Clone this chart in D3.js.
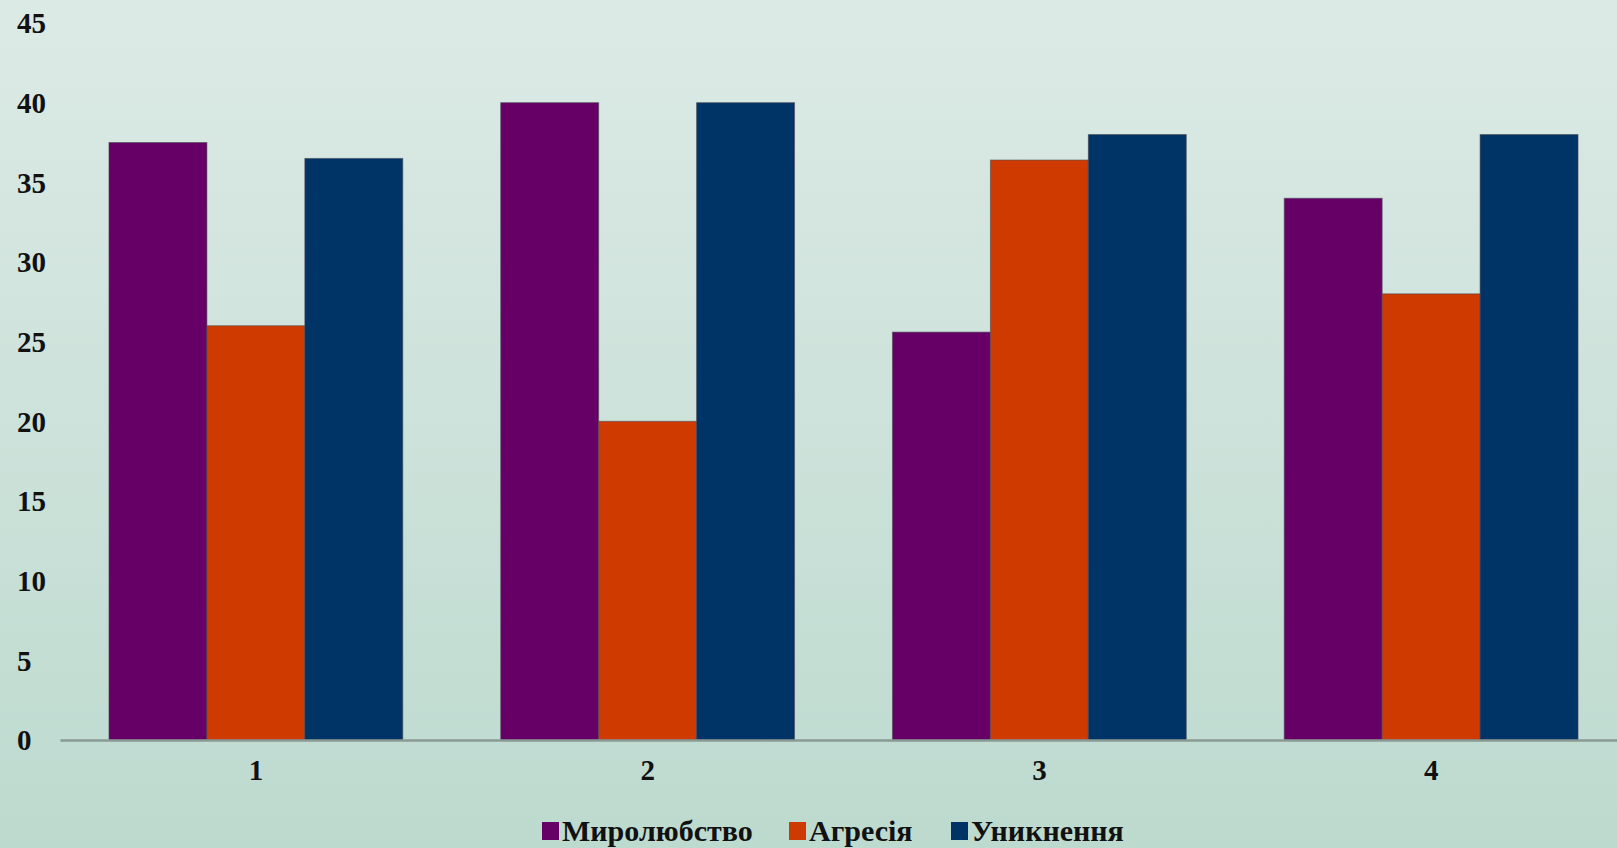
<!DOCTYPE html>
<html>
<head>
<meta charset="utf-8">
<script src="https://cdn.jsdelivr.net/npm/d3@7"></script>
<style>
  html, body { margin: 0; padding: 0; overflow: hidden; }
  svg { display: block; }
</style>
</head>
<body>
<svg id="chart" width="1617" height="848"></svg>
<script>
const categories = ["1", "2", "3", "4"];
const seriesNames = ["Миролюбство", "Агресія", "Уникнення"];
const peaceValues = [37.5, 40, 25.6, 34];
const aggressionValues = [26, 20, 36.4, 28];
const avoidanceValues = [36.5, 40, 38, 38];
const seriesColors = ["#660066", "#cf3a00", "#003366"];
const yTicks = [0, 5, 10, 15, 20, 25, 30, 35, 40, 45];

const seriesValues = [peaceValues, aggressionValues, avoidanceValues];
const data = categories.map((c, i) => ({ cat: c, vals: seriesValues.map((s, k) => ({ key: seriesNames[k], value: s[i], color: seriesColors[k] })) }));

const W = 1617, H = 848;
const FONT = "Liberation Serif";
const svg = d3.select("#chart");

const defs = svg.append("defs");
const grad = defs.append("linearGradient").attr("id", "bg").attr("x1", 0).attr("y1", 0).attr("x2", 0).attr("y2", 1);
grad.append("stop").attr("offset", "0%").attr("stop-color", "#dceae5");
grad.append("stop").attr("offset", "100%").attr("stop-color", "#bddacf");
svg.append("rect").attr("width", W).attr("height", H).attr("fill", "url(#bg)");

const x0 = d3.scaleBand().domain(categories).range([60, 1627]).paddingInner(0.25).paddingOuter(0.125);
const x1 = d3.scaleBand().domain(seriesNames).range([0, x0.bandwidth()]).padding(0);
const y = d3.scaleLinear().domain([0, 45]).range([740, 23]);

const groups = svg.append("g").selectAll("g").data(data).join("g")
  .attr("transform", d => `translate(${x0(d.cat)},0)`);
groups.selectAll("rect").data(d => d.vals).join("rect")
  .attr("x", d => x1(d.key))
  .attr("y", d => y(d.value))
  .attr("width", x1.bandwidth())
  .attr("height", d => y(0) - y(d.value))
  .attr("fill", d => d.color)
  .attr("stroke", "#4a4a55")
  .attr("stroke-opacity", 0.6)
  .attr("stroke-width", 1);

const yAxis = d3.axisLeft(y).tickValues(yTicks).tickSize(0).tickPadding(0);
const yg = svg.append("g").attr("transform", "translate(17,0)").call(yAxis);
yg.select(".domain").remove();
yg.selectAll("text").attr("text-anchor", "start").attr("x", 0).attr("dy", "0.34em")
  .style("font-family", FONT).style("font-weight", "bold").style("font-size", "29px").attr("fill", "#111");

const xAxis = d3.axisBottom(x0).tickSize(0).tickPadding(0);
const xg = svg.append("g").attr("transform", `translate(0,${y(0)})`).call(xAxis);
xg.select(".domain").attr("stroke", "#8a9a95").attr("stroke-width", 2.5);
xg.selectAll("text").attr("y", 30).attr("dy", "0.34em")
  .style("font-family", FONT).style("font-weight", "bold").style("font-size", "29px").attr("fill", "#111");

const legendItems = [
  { name: seriesNames[0], color: seriesColors[0], x: 542 },
  { name: seriesNames[1], color: seriesColors[1], x: 789 },
  { name: seriesNames[2], color: seriesColors[2], x: 951 }
];
const li = svg.append("g").selectAll("g").data(legendItems).join("g").attr("transform", d => `translate(${d.x},0)`);
li.append("rect").attr("x", 0).attr("y", 822).attr("width", 17).attr("height", 18).attr("fill", d => d.color);
li.append("text").attr("x", 20).attr("y", 841).text(d => d.name)
  .style("font-family", FONT).style("font-weight", "bold").style("font-size", "30px").attr("fill", "#111");
</script>
</body>
</html>
